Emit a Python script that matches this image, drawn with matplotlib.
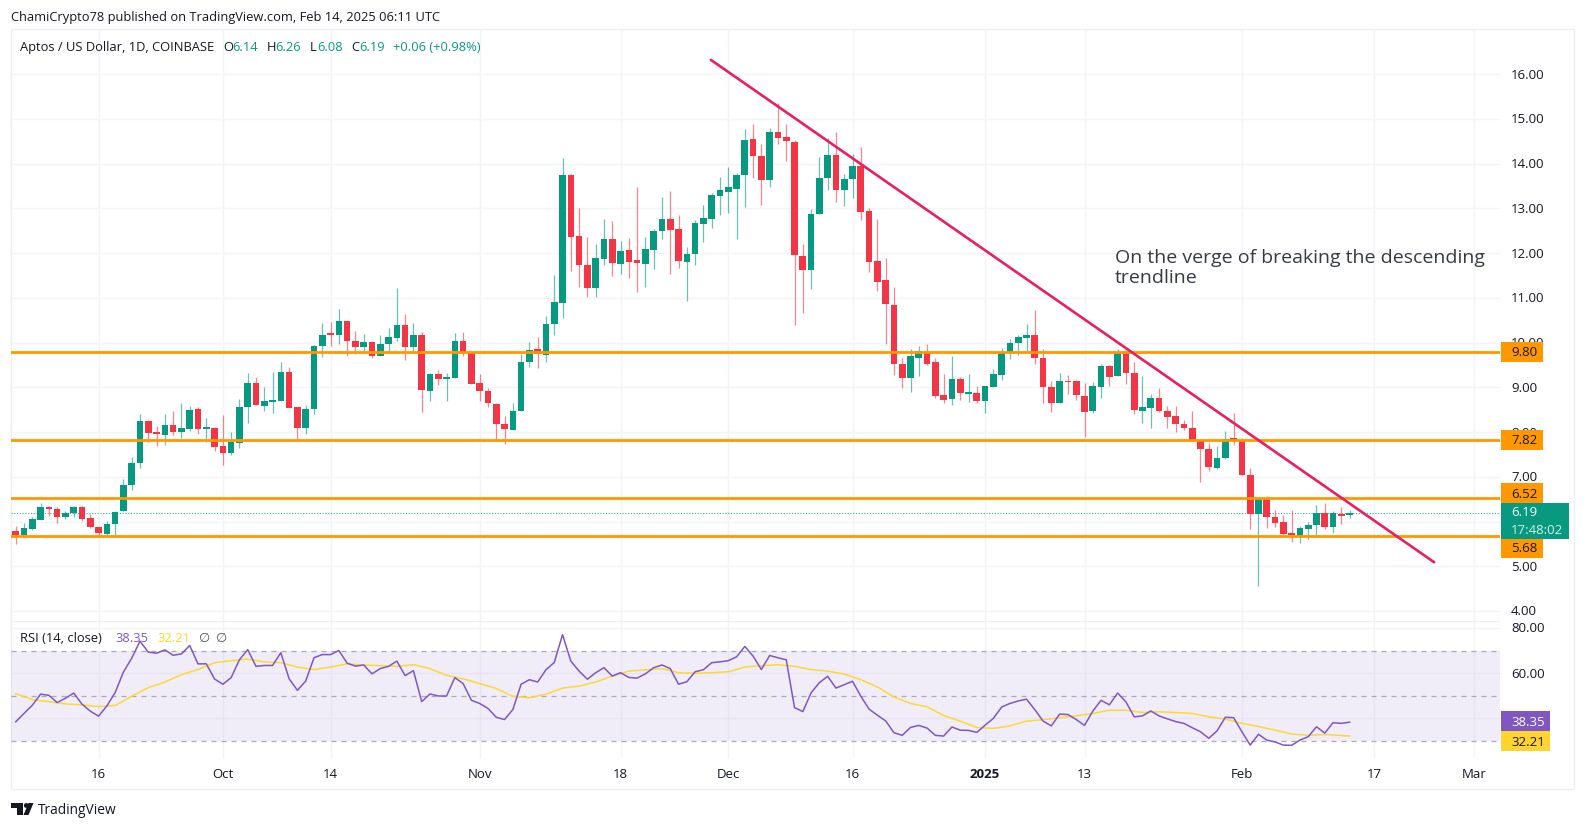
import numpy as np
import matplotlib
matplotlib.use("Agg")
import matplotlib.pyplot as plt
from matplotlib.patches import Polygon, Rectangle, Circle

plt.rcParams["font.family"] = ["Open Sans", "DejaVu Sans"]

# daily candles, index 0 = 6 Sep 2024, last = 14 Feb 2025
opens = [
    5.78, 5.69, 5.84, 6.04, 6.30, 6.29, 6.09, 6.19, 6.32, 6.07,
    5.87, 5.72, 5.94, 6.23, 6.82, 7.31, 8.25, 7.97, 7.94, 8.15,
    8.01, 8.07, 8.51, 8.07, 8.10, 7.68, 7.54, 7.76, 8.57, 9.10,
    8.59, 8.68, 8.69, 9.34, 8.55, 8.10, 8.51, 9.92, 10.19, 10.18,
    10.48, 10.03, 9.91, 10.01, 9.70, 9.97, 10.10, 10.40, 9.90, 10.18,
    8.92, 9.30, 9.18, 9.21, 10.04, 9.80, 9.09, 8.92, 8.63, 8.19,
    8.05, 8.46, 9.57, 9.85, 9.72, 10.42, 10.89, 13.75, 12.38, 11.73,
    11.23, 11.87, 12.31, 11.76, 12.06, 11.84, 11.76, 12.08, 12.50, 12.76,
    12.53, 11.81, 11.98, 12.65, 12.77, 13.27, 13.37, 13.43, 13.75, 14.54,
    14.17, 13.64, 14.70, 14.60, 14.49, 11.94, 11.63, 12.88, 13.69, 14.19,
    13.40, 13.66, 13.94, 12.95, 11.82, 11.39, 10.85, 9.53, 9.21, 9.66,
    9.80, 9.56, 8.83, 8.74, 9.18, 8.86, 8.87, 8.69, 9.01, 9.27,
    9.80, 10.00, 10.10, 10.18, 9.66, 9.01, 8.64, 9.13, 9.14, 8.81,
    8.46, 9.01, 9.48, 9.25, 9.79, 9.33, 8.48, 8.54, 8.75, 8.48,
    8.35, 8.19, 8.10, 7.83, 7.63, 7.19, 7.42, 7.84, 7.82, 7.04,
    6.17, 6.50, 6.09, 5.99, 5.74, 5.68, 5.84, 5.92, 6.20, 5.87, 6.17, 6.14,
]
closes = [
    5.69, 5.85, 6.05, 6.32, 6.28, 6.09, 6.18, 6.32, 6.06, 5.87,
    5.74, 5.94, 6.22, 6.82, 7.31, 8.25, 7.97, 7.95, 8.15, 8.01,
    8.08, 8.50, 8.07, 8.09, 7.67, 7.54, 7.78, 8.57, 9.10, 8.61,
    8.69, 8.69, 9.34, 8.54, 8.10, 8.51, 9.92, 10.18, 10.18, 10.48,
    10.03, 9.91, 10.01, 9.70, 9.97, 10.12, 10.40, 9.91, 10.18, 8.93,
    9.29, 9.18, 9.20, 10.04, 9.80, 9.08, 8.92, 8.64, 8.19, 8.07,
    8.47, 9.57, 9.83, 9.74, 10.41, 10.91, 13.75, 12.36, 11.73, 11.23,
    11.89, 12.31, 11.78, 12.05, 11.81, 11.78, 12.09, 12.49, 12.76, 12.52,
    11.82, 11.99, 12.68, 12.78, 13.30, 13.40, 13.47, 13.75, 14.53, 14.16,
    13.64, 14.71, 14.58, 14.50, 11.95, 11.63, 12.88, 13.69, 14.19, 13.41,
    13.65, 13.94, 12.93, 11.81, 11.35, 10.86, 9.51, 9.21, 9.70, 9.81,
    9.53, 8.80, 8.72, 9.19, 8.87, 8.88, 8.69, 9.02, 9.29, 9.80,
    10.00, 10.12, 10.18, 9.66, 9.01, 8.64, 9.14, 9.11, 8.83, 8.45,
    9.02, 9.48, 9.23, 9.79, 9.31, 8.49, 8.55, 8.75, 8.48, 8.34,
    8.19, 8.08, 7.81, 7.63, 7.22, 7.42, 7.84, 7.82, 7.04, 6.17,
    6.52, 6.09, 5.96, 5.72, 5.70, 5.85, 5.92, 6.20, 5.87, 6.18, 6.12, 6.19,
]
highs = [
    5.91, 5.96, 6.09, 6.42, 6.34, 6.32, 6.23, 6.35, 6.35, 6.16,
    5.88, 6.02, 6.24, 6.96, 7.44, 8.40, 8.26, 8.13, 8.40, 8.47,
    8.64, 8.58, 8.56, 8.31, 8.11, 8.37, 7.99, 8.73, 9.31, 9.22,
    9.01, 9.34, 9.56, 9.46, 8.56, 8.60, 9.95, 10.43, 10.45, 10.74,
    10.48, 10.27, 10.19, 10.03, 10.18, 10.32, 11.22, 10.64, 10.43, 10.23,
    9.33, 9.38, 9.31, 10.21, 10.23, 9.82, 9.30, 8.98, 8.66, 8.35,
    8.65, 9.74, 10.02, 10.12, 10.60, 11.52, 14.12, 13.76, 13.01, 12.36,
    12.21, 12.76, 12.72, 12.28, 12.33, 13.47, 12.36, 12.54, 13.25, 13.39,
    12.85, 12.13, 12.74, 13.07, 13.34, 13.70, 13.92, 13.80, 14.77, 14.88,
    14.44, 14.80, 15.35, 14.88, 14.53, 12.21, 12.98, 14.14, 14.57, 14.71,
    13.77, 14.22, 14.38, 13.00, 12.76, 11.89, 11.25, 9.65, 9.86, 9.92,
    9.96, 9.66, 9.29, 9.69, 9.23, 9.30, 9.04, 9.02, 9.42, 9.89,
    10.08, 10.17, 10.41, 10.72, 9.86, 9.14, 9.33, 9.27, 9.16, 9.09,
    9.12, 9.53, 9.50, 9.85, 9.83, 9.56, 9.25, 8.86, 8.99, 8.58,
    8.58, 8.27, 8.46, 7.85, 7.76, 7.68, 8.03, 8.42, 7.87, 7.19,
    6.52, 6.58, 6.26, 6.15, 6.25, 5.90, 5.98, 6.38, 6.41, 6.24, 6.32, 6.26,
]
lows = [
    5.50, 5.69, 5.82, 6.03, 6.12, 5.96, 6.06, 6.11, 6.02, 5.85,
    5.68, 5.68, 5.68, 6.23, 6.71, 7.20, 7.78, 7.69, 7.70, 7.93,
    7.86, 8.03, 7.95, 7.77, 7.57, 7.26, 7.49, 7.64, 8.21, 8.60,
    8.48, 8.43, 8.69, 8.54, 7.82, 7.95, 8.40, 9.68, 9.92, 9.97,
    9.70, 9.75, 9.77, 9.65, 9.70, 9.80, 10.04, 9.62, 9.80, 8.45,
    8.70, 9.05, 8.70, 9.21, 9.70, 9.08, 8.69, 8.57, 7.84, 7.73,
    8.05, 8.46, 9.45, 9.44, 9.57, 10.18, 10.56, 11.59, 11.24, 11.02,
    11.02, 11.74, 11.49, 11.54, 11.44, 11.12, 11.25, 11.64, 12.31, 11.54,
    11.67, 10.92, 11.74, 12.25, 12.57, 12.85, 12.90, 12.32, 13.03, 13.69,
    13.08, 13.48, 14.45, 14.07, 10.39, 10.67, 11.19, 12.88, 13.42, 13.15,
    13.05, 13.24, 12.73, 11.57, 11.16, 9.96, 9.27, 8.98, 8.89, 9.25,
    9.49, 8.77, 8.65, 8.60, 8.72, 8.68, 8.66, 8.43, 9.01, 9.17,
    9.64, 9.73, 9.81, 9.53, 8.66, 8.45, 8.64, 8.84, 8.72, 7.90,
    8.43, 8.76, 9.02, 9.25, 9.08, 8.40, 8.20, 8.10, 8.45, 8.10,
    8.00, 8.05, 7.80, 6.88, 7.13, 7.17, 7.39, 7.70, 7.03, 5.83,
    4.56, 5.85, 5.87, 5.69, 5.54, 5.52, 5.61, 5.68, 5.83, 5.75, 5.95, 6.08,
]
rsi = [
    38.5, 42.2, 45.8, 50.7, 50.2, 47.0, 48.9, 51.2, 46.3, 43.2,
    41.0, 45.5, 51.4, 60.5, 66.6, 74.1, 69.3, 68.8, 70.3, 67.9,
    68.5, 72.2, 64.1, 64.1, 57.4, 55.1, 58.0, 65.9, 70.4, 63.0,
    63.4, 63.4, 69.0, 57.5, 52.4, 56.5, 66.8, 68.2, 68.2, 70.0,
    64.4, 63.1, 63.6, 59.7, 62.0, 63.0, 65.3, 58.9, 61.1, 47.4,
    50.8, 49.9, 49.9, 58.0, 55.4, 48.0, 46.6, 44.4, 40.5, 39.5,
    43.9, 55.1, 57.1, 56.1, 61.5, 64.7, 77.0, 65.3, 60.9, 57.3,
    60.2, 62.4, 58.7, 60.2, 58.1, 57.8, 59.7, 62.4, 63.6, 62.0,
    55.1, 56.2, 60.6, 61.5, 64.6, 65.0, 65.5, 67.2, 71.8, 67.5,
    61.6, 67.8, 66.8, 65.9, 44.8, 43.0, 51.3, 55.8, 58.6, 53.4,
    54.9, 56.4, 49.8, 44.1, 41.4, 38.9, 33.7, 32.5, 36.0, 36.9,
    35.7, 32.5, 32.2, 36.2, 34.8, 34.7, 33.8, 37.0, 40.0, 45.0,
    46.6, 47.7, 48.5, 43.9, 38.8, 36.7, 41.9, 41.7, 39.5, 36.9,
    43.2, 48.0, 46.0, 51.2, 47.3, 40.7, 41.1, 43.3, 41.1, 39.8,
    38.6, 37.8, 35.9, 34.1, 31.2, 34.5, 40.5, 40.3, 34.1, 28.2,
    33.0, 30.4, 29.6, 28.2, 28.1, 30.4, 31.9, 36.3, 33.5, 38.1, 37.8, 38.35,
]
# the smoothed RSI is read every second day
rsi_ma_days = list(range(0, 160, 2)) + [161]
rsi_ma = [
    50.9, 48.3, 47.4, 46.4, 46.0, 45.2, 45.7, 49.8, 53.6, 56.1,
    59.3, 61.6, 64.6, 65.5, 66.2, 65.0, 64.6, 62.7, 61.6, 62.7,
    64.1, 63.6, 63.3, 63.0, 63.7, 62.0, 59.0, 57.5, 55.4, 53.2,
    49.8, 49.1, 50.7, 53.4, 54.3, 56.1, 58.7, 60.9, 61.5, 62.0,
    60.2, 59.9, 60.2, 60.6, 62.7, 63.3, 63.7, 63.0, 61.6, 60.9,
    59.6, 57.1, 53.9, 49.5, 46.6, 45.1, 41.3, 38.8, 36.0, 35.6,
    36.7, 38.8, 39.4, 40.4, 41.1, 42.2, 43.6, 43.6, 42.6, 42.9,
    42.6, 42.2, 40.7, 39.7, 37.8, 36.4, 34.8, 33.1, 32.5, 32.9, 32.21,
]
levels = [9.80, 7.82, 6.52, 5.68]
last_price = 6.19
trend_days = [83.9, 171.2]
trend_prices = [16.32, 5.09]
price_ticks = [4, 5, 6, 7, 8, 9, 10, 11, 12, 13, 14, 15, 16]
rsi_ticks = [40, 60, 80]
rsi_tick_labels = ["60.00", "80.00"]
date_ticks = [10, 25, 38, 56, 73, 86, 101, 117, 129, 148, 164, 176]
date_labels = ["16", "Oct", "14", "Nov", "18", "Dec", "16", "2025", "13", "Feb", "17", "Mar"]

GREEN = "#089981"
RED = "#F23645"
ORANGE = "#FF9800"
PINK = "#E91E63"
PURPLE = "#7E57C2"
YELLOW = "#FDD835"
GRID = "#F3F4F6"
TEXT = "#131722"
W, H = 1586, 827


def panel(fig, left, top, right, bottom):
    return fig.add_axes([left / W, 1 - bottom / H, (right - left) / W, (bottom - top) / H])


fig = plt.figure(figsize=(W / 100, H / 100), dpi=100, facecolor="white")

# overlay in pixels for everything around the panels
over = fig.add_axes([0, 0, 1, 1], zorder=0)
over.set_xlim(0, W)
over.set_ylim(H, 0)
over.axis("off")
over.add_patch(Rectangle((11, 29), 1563, 760, fc="white", ec="#EEEFF2", lw=1))

days = np.arange(len(closes))
xlim = (-0.57, 179.15)

ax = panel(fig, 11, 29, 1500, 621)
ax.set_xlim(xlim)
ax.set_ylim(3.776, 17.01)
ax.set_zorder(1)
ax.patch.set_alpha(0)
for t in price_ticks:
    ax.axhline(t, color=GRID, lw=1, zorder=0)
for d in date_ticks:
    ax.axvline(d, color=GRID, lw=1, zorder=0)

o = np.array(opens)
c = np.array(closes)
up = c >= o
colors = np.where(up, GREEN, RED)
ax.vlines(days[up], np.array(lows)[up], np.array(highs)[up], color=GREEN, lw=0.9, alpha=0.6, zorder=2)
ax.vlines(days[~up], np.array(lows)[~up], np.array(highs)[~up], color=RED, lw=0.9, alpha=0.6, zorder=2)
ax.bar(days, np.maximum(np.abs(c - o), 0.04), bottom=np.minimum(o, c), width=0.8, color=colors, lw=0, zorder=3)

for lv in levels:
    ax.axhline(lv, color=ORANGE, lw=2.0, zorder=4)
ax.axhline(last_price, color=GREEN, lw=0.8, ls=(0, (1, 1.5)), alpha=0.8, zorder=1)
ax.plot(trend_days, trend_prices, color=PINK, lw=1.9, zorder=5, solid_capstyle="round")
ax.axis("off")

ax2 = panel(fig, 11, 621, 1500, 758)
ax2.set_xlim(xlim)
ax2.set_ylim(22.5, 83.04)
ax2.set_zorder(1)
ax2.patch.set_alpha(0)
for t in rsi_ticks:
    ax2.axhline(t, color=GRID, lw=1, zorder=0)
for d in date_ticks:
    ax2.axvline(d, color=GRID, lw=1, zorder=0)
ax2.axhspan(30, 70, color=PURPLE, alpha=0.1, lw=0, zorder=1)
for lv in [70, 50, 30]:
    ax2.axhline(lv, color="#A8ABB5", lw=0.9, ls=(0, (4, 4)), zorder=2)
ax2.plot(rsi_ma_days, rsi_ma, color=YELLOW, lw=1.1, zorder=3)
ax2.plot(days, rsi, color=PURPLE, lw=1.1, zorder=4)
ax2.axis("off")
ax2.axhline(83.04, color="#EEEFF2", lw=1, zorder=0)

top = fig.add_axes([0, 0, 1, 1], zorder=5)
top.set_xlim(0, W)
top.set_ylim(H, 0)
top.axis("off")
top.patch.set_alpha(0)


def price_y(p):
    return 521.5 + (6 - p) * 44.74


def rsi_y(v):
    return 650.5 + (70 - v) * 2.2625


def day_x(d):
    return 15.7 + d * 8.285


FS = 9.5
for t in price_ticks:
    if t == 6:  # fully behind the last price tag
        continue
    top.text(1511, price_y(t) + 1, f"{t:.2f}", ha="left", va="center", fontsize=FS, color=TEXT, zorder=2)
for t, lab in zip(rsi_ticks[1:], rsi_tick_labels):
    top.text(1511, rsi_y(t) + 1, lab, ha="left", va="center", fontsize=FS, color=TEXT, zorder=2)
for d, lab in zip(date_ticks, date_labels):
    weight = "bold" if lab == "2025" else "normal"
    top.text(day_x(d), 774, lab, ha="center", va="center", fontsize=FS, color=TEXT, fontweight=weight)


def tag(y, text, fc, fg, x1=1543, h=20):
    top.add_patch(Rectangle((1501, y - h / 2), x1 - 1501, h, fc=fc, ec="none", zorder=4))
    top.text(1511, y + 1, text, ha="left", va="center", fontsize=FS, color=fg, zorder=5)


tag(352, "9.80", ORANGE, TEXT)
tag(440, "7.82", ORANGE, TEXT)
tag(493, "6.52", ORANGE, TEXT)
tag(548, "5.68", ORANGE, TEXT)
top.add_patch(Rectangle((1501, 503), 68, 35.5, fc=GREEN, ec="none", zorder=4))
top.text(1511, 513, "6.19", ha="left", va="center", fontsize=FS, color="white", zorder=5)
top.text(1511, 530, "17:48:02", ha="left", va="center", fontsize=FS, color="#D5EFE9", zorder=5)
tag(721, "38.35", PURPLE, "white", x1=1550)
tag(741, "32.21", "#FFD42E", TEXT, x1=1550)

# header lines
top.text(11, 17, "ChamiCrypto78 published on TradingView.com, Feb 14, 2025 06:11 UTC",
         ha="left", va="center", fontsize=9.3, color=TEXT)
top.text(20, 47.5, "Aptos / US Dollar, 1D, COINBASE", ha="left", va="center", fontsize=9.3, color=TEXT)
for x, s, col in [(223, "O", TEXT), (232, "6.14", GREEN), (267, "H", TEXT), (275, "6.26", GREEN),
                  (310, "L", TEXT), (317, "6.08", GREEN), (351, "C", TEXT), (359, "6.19", GREEN),
                  (393, "+0.06 (+0.98%)", GREEN)]:
    top.text(x, 47.5, s, ha="left", va="center", fontsize=9.3, color=col)

# RSI legend
for x, s, col in [(20.5, "RSI (14, close)", TEXT), (115, "38.35", PURPLE), (157, "32.21", YELLOW),
                  (198, "∅", "#50535E"), (215, "∅", "#50535E")]:
    top.text(x, 639, s, ha="left", va="center", fontsize=9.3, color=col)

top.text(1115, 258, "On the verge of breaking the descending", ha="left", va="center",
         fontsize=14, color="#363A45")
top.text(1115, 278, "trendline", ha="left", va="center", fontsize=14, color="#363A45")

# footer logo
top.add_patch(Polygon([(11, 803), (23, 803), (23, 815), (17, 815), (17, 808), (11, 808)], fc=TEXT, ec="none"))
top.add_patch(Circle((26.3, 805.5), 2.4, fc=TEXT, ec="none"))
top.add_patch(Polygon([(33.5, 803), (28.5, 815), (23.5, 815), (28.5, 803)], fc=TEXT, ec="none"))
top.text(38, 810, "TradingView", ha="left", va="center", fontsize=9.95, color=TEXT)

fig.savefig("out.png", dpi=100, facecolor="white")
